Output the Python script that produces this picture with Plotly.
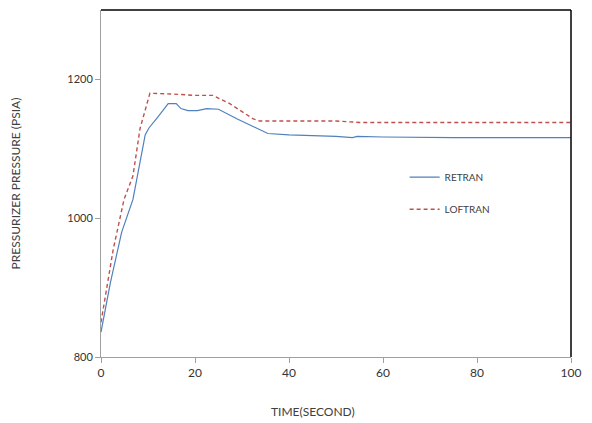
import plotly.graph_objects as go

retran_t = [0, 2, 4.4, 6.8, 9.4, 10.2, 12, 14.3, 16, 17, 18.5, 20.5, 22.5, 25, 29, 33, 35.5, 40, 50, 53.5, 54.5, 60, 75, 100]
retran_p = [836, 907, 980, 1027, 1120, 1130, 1145, 1165, 1165, 1158, 1155, 1155, 1158, 1157, 1143, 1130, 1122, 1120, 1118, 1116, 1118, 1117, 1116, 1116]

loftran_t = [0, 2.6, 4.9, 6.8, 8.3, 10.4, 15, 20, 23.8, 27.4, 32.4, 33.8, 40, 50, 55, 75, 100]
loftran_p = [850, 955, 1027, 1061, 1129, 1180, 1179, 1177, 1177, 1165, 1143, 1140, 1140, 1140, 1138, 1138, 1138]

x_ticks = [0, 20, 40, 60, 80, 100]
y_ticks = [800, 1000, 1200]

fig = go.Figure()
fig.add_trace(go.Scatter(x=retran_t, y=retran_p, mode="lines", name="RETRAN",
                         legendgroup="a",
                         line=dict(color="#4f81bd", width=1.2)))
fig.add_trace(go.Scatter(x=loftran_t, y=loftran_p, mode="lines", name="LOFTRAN",
                         legendgroup="b",
                         line=dict(color="#c0504d", width=1.4, dash="4px,3px")))

fig.update_layout(
    width=592, height=423,
    margin=dict(l=93, r=29, t=2, b=74),
    paper_bgcolor="white", plot_bgcolor="white",
    font=dict(family="Lato", size=11, color="#333333"),
    showlegend=True,
    legend=dict(x=0.646, y=0.56, xanchor="left", yanchor="top",
                traceorder="grouped", tracegroupgap=13,
                bgcolor="rgba(0,0,0,0)", font=dict(size=10, color="#404040"),
                itemwidth=30),
    xaxis=dict(range=[0, 100], tickvals=x_ticks, showgrid=False, zeroline=False,
               showline=True, linecolor="#a0a0a0", linewidth=1,
               ticks="outside", ticklen=5, tickcolor="#a0a0a0",
               tickfont=dict(size=12, color="#333333")),
    yaxis=dict(range=[800, 1300], tickvals=y_ticks, showgrid=False, zeroline=False,
               showline=True, linecolor="#a0a0a0", linewidth=1,
               ticks="outside", ticklen=5, tickcolor="#a0a0a0",
               title=dict(text="PRESSURIZER PRESSURE (PSIA)", font=dict(size=12, color="#404040"), standoff=44),
               tickfont=dict(size=11, color="#333333")),
    annotations=[
        dict(text="TIME(SECOND)", xref="paper", yref="paper", x=0.451, y=-0.1585,
             xanchor="center", yanchor="middle", showarrow=False,
             font=dict(size=12, color="#404040")),
    ],
    shapes=[
        dict(type="line", xref="paper", yref="paper", x0=0, x1=1, y0=1, y1=1,
             line=dict(color="black", width=1.5)),
        dict(type="line", xref="paper", yref="paper", x0=1, x1=1, y0=0, y1=1,
             line=dict(color="black", width=1.5)),
    ],
)

fig.write_html("out.html")
